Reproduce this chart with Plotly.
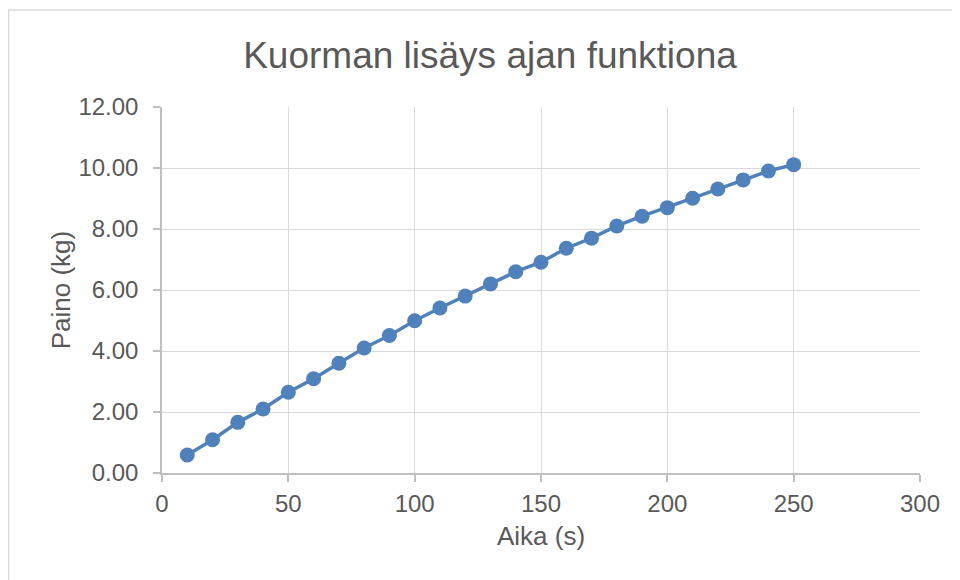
import plotly.graph_objects as go

# Aika (s) ja paino (kg)
aika = [10, 20, 30, 40, 50, 60, 70, 80, 90, 100, 110, 120, 130,
        140, 150, 160, 170, 180, 190, 200, 210, 220, 230, 240, 250]
paino = [0.59, 1.09, 1.66, 2.10, 2.65, 3.09, 3.60, 4.10, 4.51, 4.99, 5.41, 5.80, 6.20,
         6.60, 6.91, 7.37, 7.70, 8.10, 8.42, 8.70, 9.01, 9.31, 9.61, 9.90, 10.11]

x_ticks = [0, 50, 100, 150, 200, 250, 300]
y_ticks = [0, 2, 4, 6, 8, 10, 12]

_BLUE = "#4f81bd"
_GRID = "#d9d9d9"
_AXIS = "#bfbfbf"
_TEXT = "#595959"

fig = go.Figure()

fig.add_trace(go.Scatter(
    x=aika, y=paino,
    mode="lines+markers",
    line=dict(color=_BLUE, width=3.5),
    marker=dict(color=_BLUE, size=15),
    showlegend=False,
))

# page body adds 8px; plot area on screen: x 162..920, y 107..473
L, R, T, B = 154, 48, 99, 115
W, H = 960, 580
pw, ph = W - L - R, H - T - B

# outer chart border (screen x=8, y=10 -> figure x=0, y=2)
fig.add_shape(
    type="rect", xref="paper", yref="paper",
    x0=(0.5 - L) / pw, x1=(W + 10 - L) / pw,
    y0=-(H + 10 - (H - B)) / ph, y1=((H - B) - 2) / ph,
    line=dict(color=_GRID, width=1.5), fillcolor="rgba(0,0,0,0)",
)

fig.update_layout(
    width=W, height=H,
    margin=dict(l=L, r=R, t=T, b=B),
    paper_bgcolor="white", plot_bgcolor="white",
    font=dict(family="Liberation Sans, Arial", color=_TEXT),
    title=dict(
        text="Kuorman lisäys ajan funktiona",
        font=dict(size=37, color=_TEXT),
        x=(482 - L) / pw, xref="paper", xanchor="center",
        y=1 - 47 / H, yanchor="middle",
    ),
    xaxis=dict(
        title=dict(text="Aika (s)", font=dict(size=26, color=_TEXT), standoff=11),
        range=[0, 300], tickvals=x_ticks,
        tickfont=dict(size=24, color=_TEXT), ticklabelstandoff=1,
        showgrid=True, gridcolor=_GRID, gridwidth=1,
        zeroline=False, showline=True, linecolor=_AXIS, linewidth=1.5,
        ticks="outside", ticklen=7, tickcolor=_AXIS, tickwidth=1.5,
    ),
    yaxis=dict(
        title=dict(text="Paino (kg)", font=dict(size=26, color=_TEXT), standoff=0),
        range=[0, 12], tickvals=y_ticks, tickformat=".2f",
        tickfont=dict(size=24, color=_TEXT), ticklabelstandoff=10,
        showgrid=True, gridcolor=_GRID, gridwidth=1,
        zeroline=False, showline=True, linecolor=_AXIS, linewidth=1.5,
        ticks="outside", ticklen=7, tickcolor=_AXIS, tickwidth=1.5,
    ),
)

fig.write_html("out.html")
